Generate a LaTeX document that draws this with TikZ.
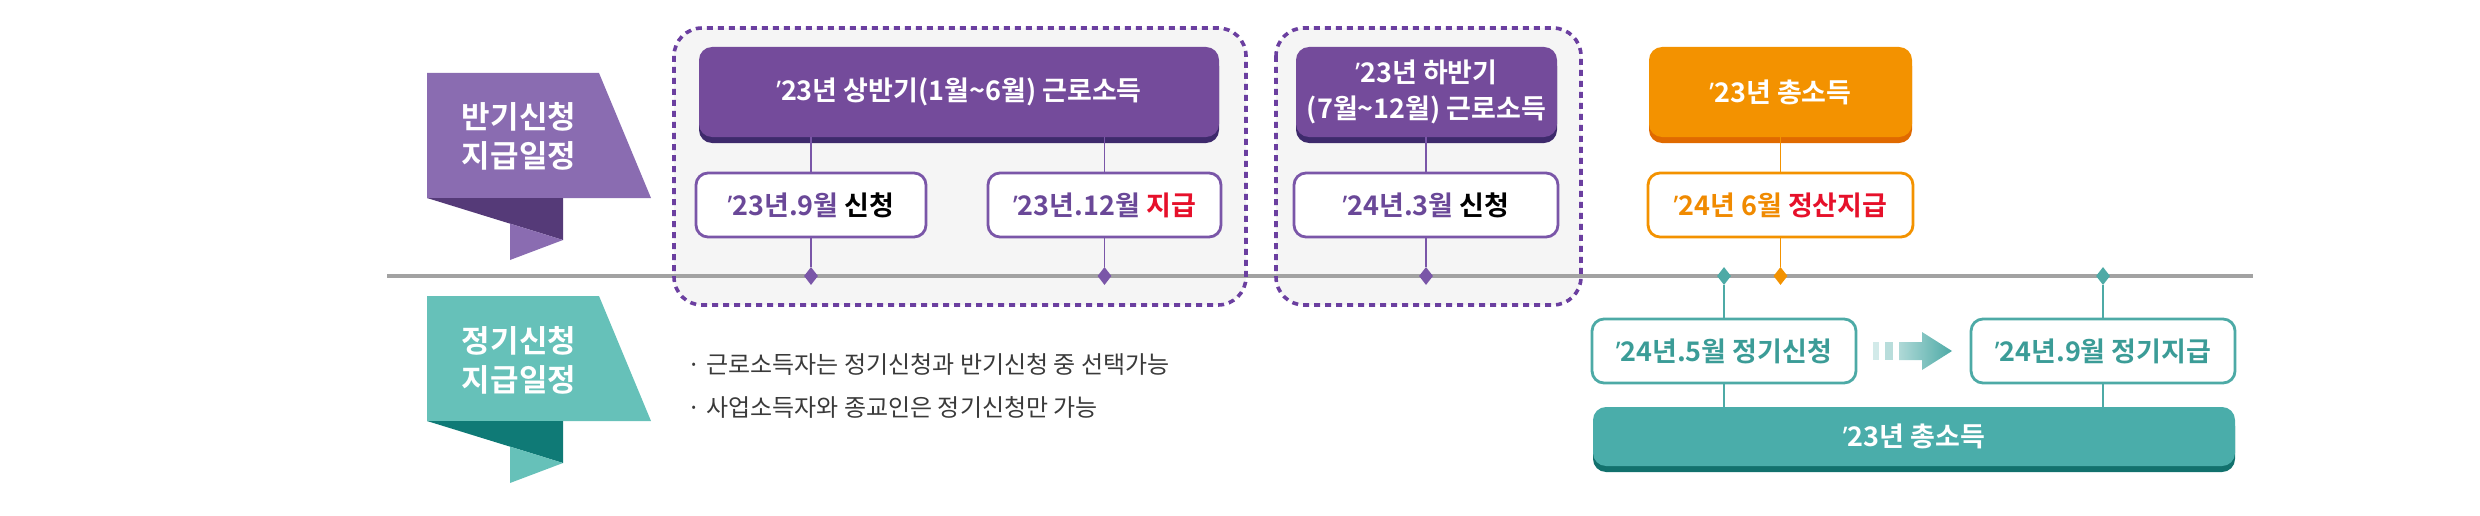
\documentclass[tikz,border=0pt]{standalone}
\usepackage{fontspec}
\setmainfont{Noto Sans CJK KR}[BoldFont=* Bold]
\newfontfamily\latinq{Noto Sans}
\newcommand{\yr}{{\latinq ’}}
\usetikzlibrary{shapes.geometric}
\usetikzlibrary{shadows}

\definecolor{purp}{HTML}{744B9B}
\definecolor{purpdark}{HTML}{3E2A6C}
\definecolor{purpban}{HTML}{8A6CB1}
\definecolor{purpfold}{HTML}{553A78}
\definecolor{purpline}{HTML}{7A56A8}
\definecolor{purptext}{HTML}{6A4898}
\definecolor{grpline}{HTML}{6B3FA0}
\definecolor{grpfill}{HTML}{F5F5F5}
\definecolor{orng}{HTML}{F39200}
\definecolor{orngdark}{HTML}{E06A00}
\definecolor{orngtext}{HTML}{F08A00}
\definecolor{redtext}{HTML}{E6102A}
\definecolor{tealban}{HTML}{66C1B9}
\definecolor{tealfold}{HTML}{0F7A76}
\definecolor{tealbar}{HTML}{4AADAA}
\definecolor{tealdark}{HTML}{12716D}
\definecolor{tealline}{HTML}{4DAAA6}
\definecolor{tealtext}{HTML}{3B9C97}
\definecolor{lgray}{HTML}{A2A2A2}
\definecolor{notegray}{HTML}{3A3A3A}

\begin{document}
\begin{tikzpicture}[x=1pt, y=-1pt,
  mainbox/.style={rounded corners=13pt, inner sep=0pt, minimum height=90pt,
    text=white, align=center, font=\fontsize{27}{36}\selectfont\bfseries,
    general shadow={fill=#1, shadow yshift=-6pt}},
  subbox/.style={draw, line width=2.8pt, fill=white, rounded corners=12pt,
    inner sep=0pt, minimum height=64pt, font=\fontsize{27}{30}\selectfont\bfseries},
  bantext/.style={text=white, align=center, font=\fontsize{31}{39}\selectfont\bfseries},
  note/.style={text=notegray, anchor=west, font=\fontsize{24}{28}\selectfont},
  vline/.style={line width=1.8pt},
  dia/.style={shape=diamond, inner sep=0pt, minimum width=14pt, minimum height=18pt}]
\useasboundingbox (0,0) rectangle (2480,516);

% banners on the left
\foreach \dy/\cb/\cf/\nm in {0/purpban/purpfold/ban1, 223/tealban/tealfold/ban2} {
 \fill[\cb] (427,73+\dy) -- (599,73+\dy) -- (651,198+\dy) -- (427,198+\dy) -- cycle;
 \fill[\cf] (427,198+\dy) -- (563,198+\dy) -- (563,240+\dy) -- cycle;
 \fill[\cb] (510,223.6+\dy) -- (563,240+\dy) -- (510,260+\dy) -- cycle;
}
\node[bantext] (ban1) at (519,136) {반기신청\\지급일정};
\node[bantext] (ban2) at (519,360) {정기신청\\지급일정};

% dashed groups and timeline
\fill[grpfill, rounded corners=28pt] (674,28) rectangle (1246,305);
\fill[grpfill, rounded corners=28pt] (1276,28) rectangle (1581,305);
\coordinate (tl-a) at (387,276);
\coordinate (tl-b) at (2253,276);
\draw[lgray, line width=4pt] (tl-a) -- (tl-b);
\draw[grpline, line width=3.6pt, dash pattern=on 6pt off 5pt, rounded corners=28pt] (674,28) rectangle (1246,305);
\draw[grpline, line width=3.6pt, dash pattern=on 6pt off 5pt, rounded corners=28pt] (1276,28) rectangle (1581,305);

% half-year boxes
\node[mainbox=purpdark, fill=purp, minimum width=520pt] (h1) at (959,92) {\yr23년 상반기(1월\textasciitilde 6월) 근로소득};
\node[mainbox=purpdark, fill=purp, minimum width=261pt] (h2) at (1426.5,92) {\yr23년 하반기\\(7월\textasciitilde 12월) 근로소득};
\node[mainbox=orngdark, fill=orng, minimum width=263pt] (tot) at (1780.5,92) {\yr23년 총소득};

\node[subbox, draw=purpline, text=purptext, minimum width=230pt] (s1) at (811,205) {\yr23년.9월 \textcolor{black}{신청}};
\node[subbox, draw=purpline, text=purptext, minimum width=233pt] (s2) at (1104.5,205) {\yr23년.12월 \textcolor{redtext}{지급}};
\node[subbox, draw=purpline, text=purptext, minimum width=264pt] (s3) at (1426,205) {\yr24년.3월 \textcolor{black}{신청}};
\node[subbox, draw=orng, text=orngtext, minimum width=265pt] (s4) at (1780.5,205) {\yr24년 6월 \textcolor{redtext}{정산지급}};

\foreach \s/\h/\c in {s1/h1/purpline, s2/h1/purpline, s3/h2/purpline, s4/tot/orng} {
 \draw[vline, \c] (\s.north |- \h.south) -- (\s.north);
 \node[dia, fill=\c] (d-\s) at (\s |- tl-a) {};
 \draw[vline, \c] (\s.south) -- (d-\s);
}

% regular schedule
\node[subbox, draw=tealline, text=tealtext, minimum width=264pt] (r1) at (1724,351) {\yr24년.5월 정기신청};
\node[subbox, draw=tealline, text=tealtext, minimum width=264pt] (r2) at (2103,351) {\yr24년.9월 정기지급};
\node[mainbox=tealdark, fill=tealbar, minimum width=642pt, minimum height=59pt] (bar) at (1914,436.5) {\yr23년 총소득};
\foreach \r in {r1, r2} {
 \node[dia, fill=tealline] (d-\r) at (\r |- tl-a) {};
 \draw[vline, tealline] (d-\r) -- (\r.north);
 \draw[vline, tealline] (\r.south) -- (\r.south |- bar.north);
}
\fill[tealline!25] (1873,342) rectangle (1879,360);
\fill[tealline!40] (1885,342) rectangle (1893,360);
\shade[left color=tealline!45, right color=tealline] (1899,342) -- (1922,342) -- (1922,332) -- (1952,351) -- (1922,370) -- (1922,360) -- (1899,360) -- cycle;

% notes
\node[note] (n1) at (684,365) {· 근로소득자는 정기신청과 반기신청 중 선택가능};
\node[note] (n2) at (684,408) {· 사업소득자와 종교인은 정기신청만 가능};
\end{tikzpicture}
\end{document}
